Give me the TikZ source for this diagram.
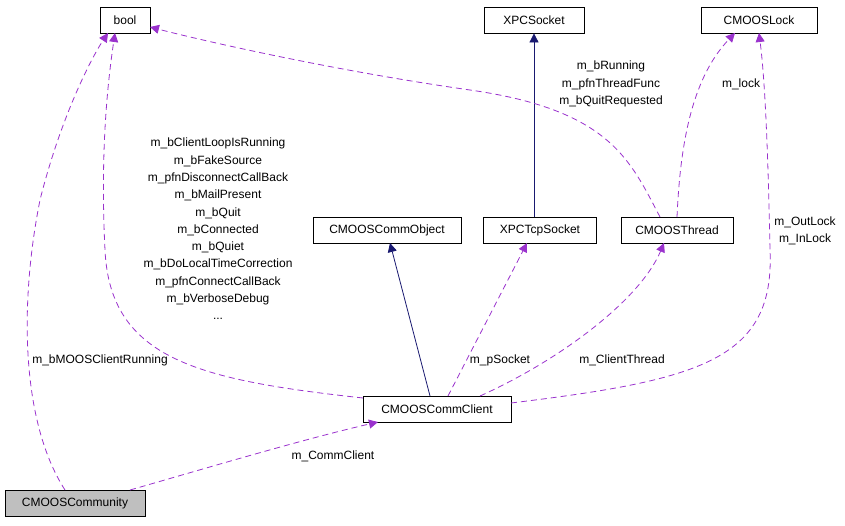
\documentclass[tikz,border=0pt]{standalone}
\usepackage{fontspec}
\setmainfont{Liberation Sans}
\usetikzlibrary{arrows.meta}
\begin{document}
\begin{tikzpicture}[x=1pt,y=-1pt,
 box/.style={draw,thick,minimum height=26pt,inner sep=0pt,font=\fontsize{12}{14}\selectfont},
 lab/.style={font=\fontsize{12}{17.3}\selectfont,align=center,inner sep=0pt},
 inh/.style={draw={rgb,255:red,25;green,25;blue,112},thick,-{Triangle[length=9pt,width=9pt]}},
 use/.style={draw={rgb,255:red,154;green,50;blue,205},thick,dashed,dash pattern=on 6pt off 4pt,-{Triangle[length=9pt,width=9pt]}}]
\useasboundingbox (0,0) rectangle (845,525);
\node[box,minimum width=50pt] (bool) at (125,20) {bool};
\node[box,minimum width=100pt] (xpcs) at (534,20) {XPCSocket};
\node[box,minimum width=116pt] (lock) at (759,20) {CMOOSLock};
\node[box,minimum width=148pt] (cobj) at (387,230) {CMOOSCommObject};
\node[box,minimum width=113pt] (tcp) at (540,230) {XPCTcpSocket};
\node[box,minimum width=112pt] (thr) at (677,230) {CMOOSThread};
\node[box,minimum width=148pt] (cli) at (437,409) {CMOOSCommClient};
\node[box,minimum width=140pt,fill={rgb,255:red,191;green,191;blue,191}] (com) at (75,503) {CMOOSCommunity};
\draw[inh] (tcp.north -| xpcs) -- (xpcs.south);
\draw[inh] (430,396) -- (390,243);
\draw[use] (448,396) -- (527,243);
\draw[use] (480,396) .. controls (560,360) and (640,300) .. (664,243);
\draw[use] (511,403) .. controls (700,380) and (775,360) .. (770,250) .. controls (768,150) and (765,80) .. (759,33);
\draw[use] (363,398) .. controls (200,380) and (110,360) .. (105,250) .. controls (100,150) and (108,80) .. (115,33);
\draw[use] (660,217) .. controls (630,160) and (610,110) .. (470,90) .. controls (330,70) and (200,40) .. (150,27);
\draw[use] (677,217) .. controls (680,150) and (690,80) .. (735,33);
\draw[use] (65,490) .. controls (20,420) and (20,300) .. (40,200) .. controls (60,120) and (90,60) .. (108,33);
\draw[use] (130,490) .. controls (200,470) and (300,440) .. (378,422);
\node[lab] at (218,229) {m\_bClientLoopIsRunning\\m\_bFakeSource\\m\_pfnDisconnectCallBack\\m\_bMailPresent\\m\_bQuit\\m\_bConnected\\m\_bQuiet\\m\_bDoLocalTimeCorrection\\m\_pfnConnectCallBack\\m\_bVerboseDebug\\...};
\node[lab] at (611,84) {m\_bRunning\\m\_pfnThreadFunc\\m\_bQuitRequested};
\node[lab] at (741,84) {m\_lock};
\node[lab] at (805,231) {m\_OutLock\\m\_InLock};
\node[lab] at (500,360) {m\_pSocket};
\node[lab] at (622,360) {m\_ClientThread};
\node[lab] at (100,360) {m\_bMOOSClientRunning};
\node[lab] at (333,456) {m\_CommClient};
\end{tikzpicture}
\end{document}
